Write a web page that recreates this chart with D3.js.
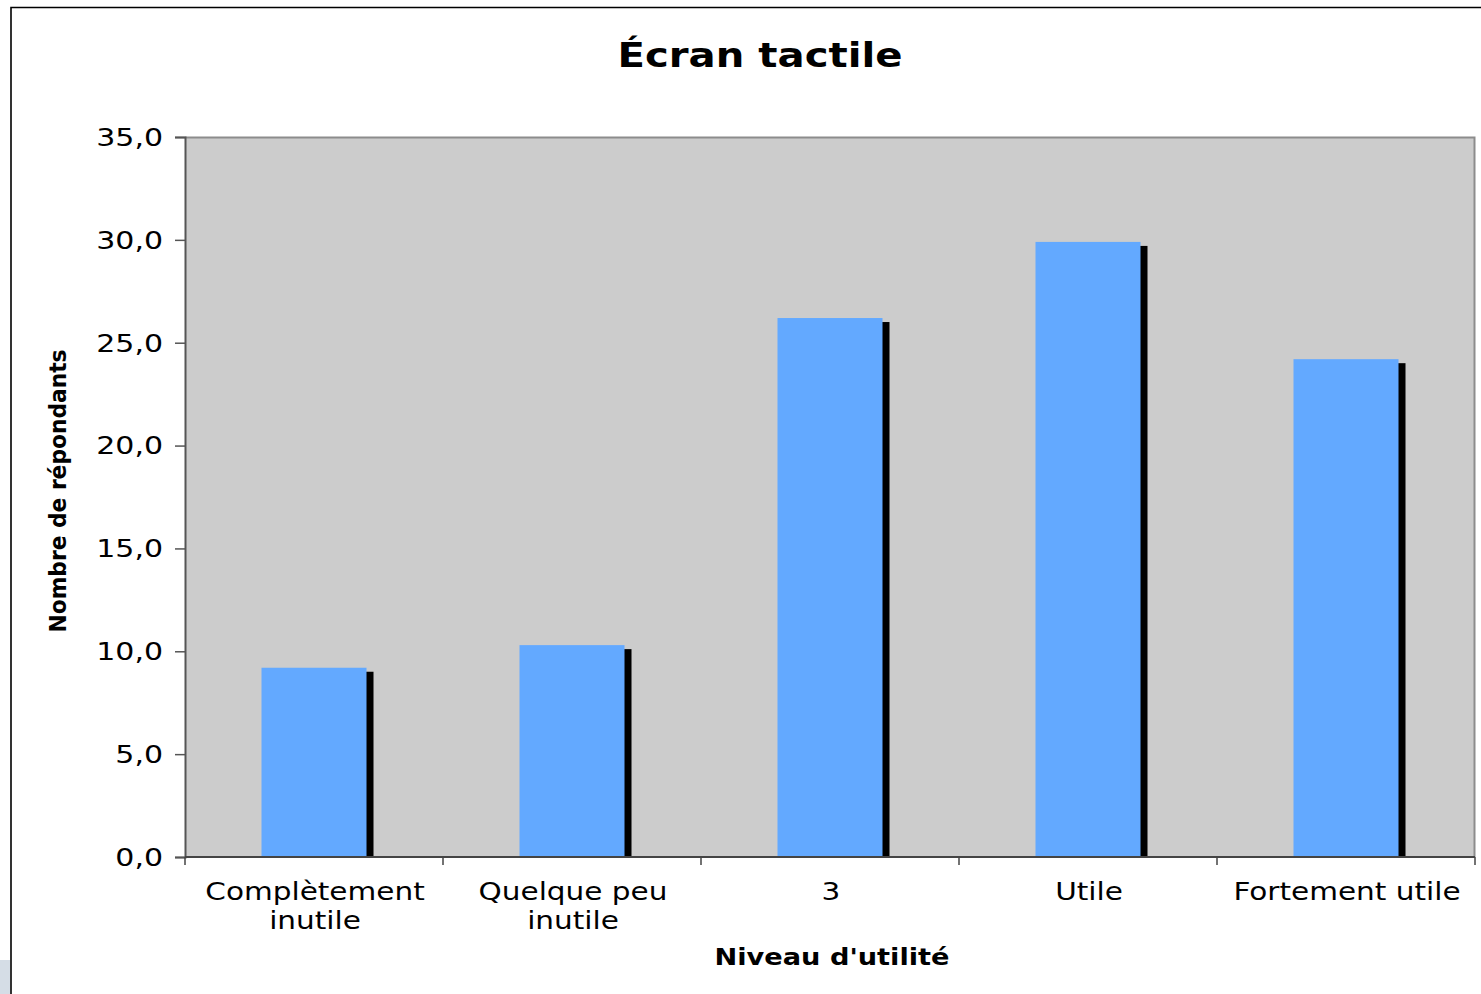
<!DOCTYPE html>
<html lang="fr">
<head>
  <meta charset="UTF-8">
  <title>Écran tactile</title>
  <script src="https://d3js.org/d3.v7.min.js"></script>
  <style>
    body { margin: 0; background: #fff; }
    text { font-family: "DejaVu Sans", Verdana, sans-serif; fill: #000; }
  </style>
</head>
<body>
  <div id="viz"></div>

  <script>
    // Data
    const categories = [["Complètement", "inutile"], ["Quelque peu", "inutile"], ["3"], ["Utile"], ["Fortement utile"]];
    const values = [9.2, 10.3, 26.2, 29.9, 24.2];
    const yTicks = [0, 5, 10, 15, 20, 25, 30, 35];
    const chartTitle = "Écran tactile";
    const xTitle = "Niveau d'utilité";
    const yTitle = "Nombre de répondants";

    // Config dimensions and margins
    const actualWidth = 1481, actualHeight = 994;
    const margin = { top: 137, right: 6, bottom: 137, left: 185 },
          width = actualWidth - margin.left - margin.right,
          height = actualHeight - margin.top - margin.bottom;

    const svg = d3.select('#viz')
      .append('svg')
        .attr('width', actualWidth)
        .attr('height', actualHeight);

    // outer frame of the chart (cut at right / bottom)
    svg.append('rect')
      .attr('x', 0).attr('y', 960).attr('width', 10).attr('height', 34)
      .attr('fill', '#d5dde6');
    svg.append('path')
      .attr('d', `M11,${actualHeight} V7.5 H${actualWidth}`)
      .attr('fill', 'none')
      .attr('stroke', '#000')
      .attr('stroke-width', 1.6);

    const g = svg.append('g')
      .attr('transform', `translate(${margin.left}, ${margin.top})`);

    const x = d3.scaleBand()
      .domain(d3.range(categories.length))
      .range([0, width])
      .padding(0);
    const y = d3.scaleLinear()
      .domain([0, 35])
      .range([height, 0]);

    const fr = d3.formatLocale({ decimal: ",", thousands: " ", grouping: [3], currency: ["", " €"] });
    const fmt = fr.format(".1f");

    // plot area
    g.append('rect')
      .attr('width', width)
      .attr('height', height)
      .attr('fill', '#cccccc');
    g.append('path')
      .attr('d', `M0,0.5 H${width - 0.5} V${height}`)
      .attr('fill', 'none')
      .attr('stroke', '#8c8c8c')
      .attr('stroke-width', 2);

    // bars with black shadow
    const barW = x.bandwidth() * 0.407;
    const shadowDx = 7, shadowDy = 4;
    const bars = g.selectAll('.bar')
      .data(values)
      .enter()
      .append('g')
        .attr('class', 'bar');
    bars.append('rect')
      .attr('x', (d, i) => x(i) + (x.bandwidth() - barW) / 2 + shadowDx)
      .attr('y', d => y(d) + shadowDy)
      .attr('width', barW)
      .attr('height', d => height - y(d) - shadowDy)
      .attr('fill', '#000');
    bars.append('rect')
      .attr('x', (d, i) => x(i) + (x.bandwidth() - barW) / 2)
      .attr('y', d => y(d))
      .attr('width', barW)
      .attr('height', d => height - y(d))
      .attr('fill', '#63a9ff');

    // y axis
    const yAxis = g.append('g')
      .call(d3.axisLeft(y).tickValues(yTicks).tickSize(10).tickFormat(fmt));
    yAxis.select('.domain').attr('stroke', '#555').attr('stroke-width', 2);
    yAxis.selectAll('.tick line').attr('stroke', '#555').attr('stroke-width', 1.5);
    yAxis.selectAll('.tick text')
      .attr('x', null).attr('dy', null)
      .attr('font-size', 24)
      .attr('dominant-baseline', 'central')
      .attr('text-anchor', 'end')
      .attr('transform', 'translate(-22,0) scale(1.25,1)');

    // x axis: ticks at category boundaries
    const xAxis = g.append('g')
      .attr('transform', `translate(0, ${height})`);
    xAxis.append('path')
      .attr('d', `M0,0 H${width}`)
      .attr('stroke', '#444')
      .attr('stroke-width', 2);
    xAxis.selectAll('line')
      .data(d3.range(categories.length + 1))
      .enter()
      .append('line')
        .attr('x1', i => i < categories.length ? x(i) : width)
        .attr('x2', i => i < categories.length ? x(i) : width)
        .attr('y1', 0).attr('y2', 8)
        .attr('stroke', '#444')
        .attr('stroke-width', 1.5);
    const xl = xAxis.selectAll('.xlab')
      .data(categories)
      .enter()
      .append('text')
        .attr('class', 'xlab')
        .attr('font-size', 24)
        .attr('text-anchor', 'middle')
        .attr('transform', (d, i) => `translate(${x(i) + x.bandwidth() / 2 + 1}, 43) scale(1.23,1)`);
    xl.selectAll('tspan')
      .data(d => d)
      .enter()
      .append('tspan')
        .attr('x', 0)
        .attr('y', (d, j) => j * 29)
        .text(d => d);

    // titles
    svg.append('text')
      .attr('x', 760).attr('y', 67)
      .attr('text-anchor', 'middle')
      .attr('font-size', 34)
      .attr('font-weight', 'bold')
      .attr('textLength', 285)
      .attr('lengthAdjust', 'spacingAndGlyphs')
      .text(chartTitle);
    svg.append('text')
      .attr('x', 832).attr('y', 965)
      .attr('text-anchor', 'middle')
      .attr('font-size', 23)
      .attr('font-weight', 'bold')
      .attr('textLength', 235)
      .attr('lengthAdjust', 'spacingAndGlyphs')
      .text(xTitle);
    svg.append('text')
      .attr('transform', 'translate(66, 491) rotate(-90)')
      .attr('text-anchor', 'middle')
      .attr('font-size', 23)
      .attr('font-weight', 'bold')
      .attr('textLength', 283)
      .attr('lengthAdjust', 'spacingAndGlyphs')
      .text(yTitle);
  </script>
</body>
</html>
